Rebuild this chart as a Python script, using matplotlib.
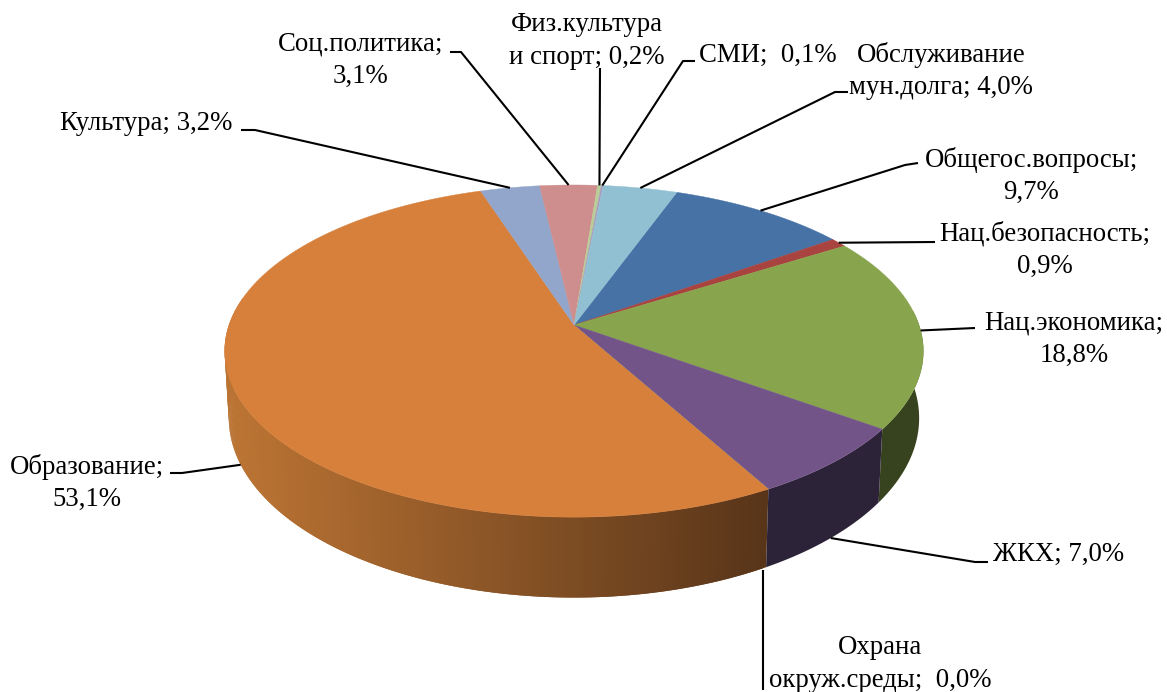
import numpy as np
import matplotlib
matplotlib.use('Agg')
import matplotlib.pyplot as plt
from matplotlib.patches import Polygon

# данные
names = ['Общегос.вопросы', 'Нац.безопасность', 'Нац.экономика', 'ЖКХ', 'Охрана окруж.среды',
         'Образование', 'Культура', 'Соц.политика', 'Физ.культура и спорт', 'СМИ', 'Обслуживание мун.долга']
values = [9.7, 0.9, 18.8, 7.0, 0.0, 53.1, 3.2, 3.1, 0.2, 0.1, 4.0]
top_colors = ['#4672A6', '#A9433F', '#88A44D', '#725489', '#45A0B8', '#D7803C',
              '#92A6CC', '#CE8E8E', '#B9CD96', '#A99BBD', '#92C0D3']
side_colors = ['#2A4464', '#652826', '#37421E', '#2D2338', '#2A6070', '#D7803C',
               '#586480', '#7C5555', '#6F7B5A', '#655D71', '#587380']
side_left = '#BA7333'
side_right = '#573419'

# подписи: текст, x, y, выравнивание
labels = [('Общегос.вопросы;\n9,7%', 1031, 176, 'center'),
          ('Нац.безопасность;\n0,9%', 1045, 250, 'center'),
          ('Нац.экономика;\n18,8%', 1074, 339, 'center'),
          ('ЖКХ; 7,0%', 993, 554, 'left'),
          ('Охрана\nокруж.среды;  0,0%', 880, 664, 'center'),
          ('Образование;\n53,1%', 87, 483, 'center'),
          ('Культура; 3,2%', 60, 123, 'left'),
          ('Соц.политика;\n3,1%', 361, 60, 'center'),
          ('Физ.культура\nи спорт; 0,2%', 587, 41, 'center'),
          ('СМИ;  0,1%', 699, 55, 'left'),
          ('Обслуживание\nмун.долга; 4,0%', 941, 71, 'center')]

# выноски: начало линии у подписи, излом (если есть), дальше точка на пироге
leaders = [[(918, 163), (905, 165)],
           [(935, 242)],
           [(975, 328)],
           [(988, 562), (975, 562)],
           [(763, 690), (763, 570)],
           [(170, 473), (182, 473)],
           [(241, 130), (255, 130)],
           [(450, 52), (461, 52)],
           [(600, 68)],
           [(695, 61), (683, 61)],
           [(848, 92), (835, 92)]]
on_bottom = [False, False, False, True, True, True, False, False, False, False, False]

# геометрия пирога (пиксели картинки)
cx, cy = 574, 325
a, b, k = 345.0, 162.0, 0.157
start = 20.0
bottom_dy, bottom_sx, bottom_sy = 65.0, 0.988, 1.08
side_from, side_to = 85.0, 280.0


def top_edge(t):
    t = np.radians(t)
    u, v = np.sin(t), np.cos(t)
    d = 1 + k * v
    return cx + a * u / d, cy - b * v / d


def bottom_edge(t):
    t = np.radians(t)
    u, v = np.sin(t), np.cos(t)
    d = 1 + k * v
    return cx + bottom_sx * a * u / d, cy + bottom_dy - bottom_sy * b * v / d


fig = plt.figure(figsize=(11.67, 6.92), dpi=100)
ax = fig.add_axes([0, 0, 1, 1])
ax.set_xlim(0, 1167)
ax.set_ylim(692, 0)
ax.axis('off')

total = sum(values)
edges = start + np.concatenate([[0], np.cumsum(values)]) * 360.0 / total

# боковая стенка
rgb_l = np.array(matplotlib.colors.to_rgb(side_left))
rgb_r = np.array(matplotlib.colors.to_rgb(side_right))
for i in range(len(values)):
    t0, t1 = max(edges[i], side_from), min(edges[i + 1], side_to)
    if t1 <= t0:
        continue
    if names[i] == 'Образование':
        # градиент: полоски внахлест, идем слева направо
        ts = np.linspace(t1, t0, int((t1 - t0) * 2) + 2)
        for p, q in zip(ts[:-1], ts[2:]):
            xy = [top_edge(p), top_edge(q), bottom_edge(q), bottom_edge(p)]
            x = min(max((xy[0][0] - 240) / (770 - 240), 0), 1)
            ax.add_patch(Polygon(xy, closed=True, fc=rgb_l + (rgb_r - rgb_l) * x, ec='none', zorder=2))
    else:
        ts = np.linspace(t0, t1, 60)
        xy = [top_edge(t) for t in ts] + [bottom_edge(t) for t in ts[::-1]]
        ax.add_patch(Polygon(xy, closed=True, fc=side_colors[i], ec='none', zorder=2.5))

# верхняя грань
for i in range(len(values)):
    ts = np.linspace(edges[i], edges[i + 1], max(int(values[i] * 12), 2))
    pts = [(cx, cy)] + [top_edge(t) for t in ts]
    ax.add_patch(Polygon(pts, closed=True, fc=top_colors[i], ec=top_colors[i], lw=0.3, zorder=3))

# выноски
for i in range(len(values)):
    mid = (edges[i] + edges[i + 1]) / 2
    anchor = bottom_edge(mid) if on_bottom[i] else top_edge(mid)
    pts = leaders[i] + [anchor]
    if names[i] == 'Охрана окруж.среды':
        pts = leaders[i]
    ax.plot([p[0] for p in pts], [p[1] for p in pts], color='black', lw=1.5, zorder=4,
            solid_capstyle='butt')

# подписи
for txt, x, y, ha in labels:
    ax.text(x, y, txt, ha=ha, va='center', ma='center', fontsize=19.3, color='black',
            family=['Liberation Serif', 'DejaVu Serif'], linespacing=1.38, zorder=5)

fig.savefig('out.png', dpi=100)
